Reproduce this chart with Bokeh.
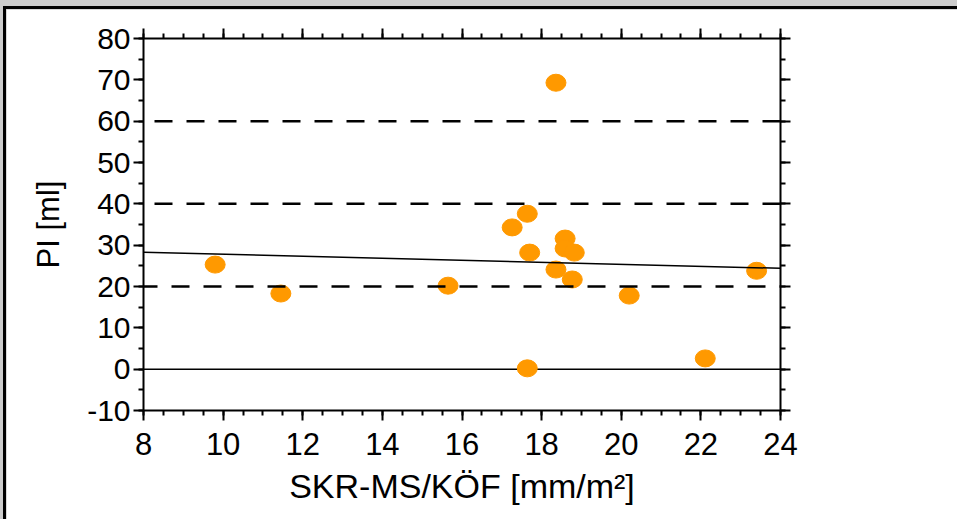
from bokeh.plotting import figure
from bokeh.models import (Range1d, LinearAxis, SingleIntervalTicker, Span, ColumnDataSource,
                          PrintfTickFormatter)
from bokeh.layouts import column
from bokeh.embed import file_html
from bokeh.resources import INLINE

# ---- data ----
x_vals = [9.8, 11.45, 15.65, 17.26, 17.64, 17.7, 17.64, 18.36, 18.36, 18.59, 18.59, 18.82, 18.77, 20.2, 22.11, 23.4]
y_vals = [25.3, 18.3, 20.2, 34.3, 37.6, 28.2, 0.2, 69.3, 24.1, 31.6, 29.2, 28.2, 21.7, 17.8, 2.6, 23.8]
reg_x = [8, 24]
reg_y = [28.3, 24.4]
ref_dashed = [20, 40, 60]
ref_solid = [0]
x_range = (8, 24)
y_range = (-10, 80)

FONT = "Liberation Sans"

p = figure(width=951, height=510, output_backend="svg", toolbar_location=None,
           x_range=Range1d(*x_range), y_range=Range1d(*y_range),
           x_axis_location=None, y_axis_location=None,
           frame_width=634, frame_height=369,
           min_border_left=137, min_border_right=180, min_border_top=29, min_border_bottom=112,
           background_fill_color="white", border_fill_color="white")
p.grid.visible = False
p.outline_line_color = None

def style_axis(ax, labels=True):
    ax.axis_line_width = 2
    ax.axis_line_color = "black"
    ax.major_tick_line_width = 2
    ax.minor_tick_line_width = 2
    ax.major_tick_out = 10
    ax.major_tick_in = 0
    ax.minor_tick_out = 5
    ax.minor_tick_in = 0
    ax.major_label_text_font = FONT
    ax.major_label_text_color = "black"
    ax.axis_label_text_font = FONT
    ax.axis_label_text_font_style = "normal"
    ax.axis_label_text_color = "black"
    ax.formatter = PrintfTickFormatter(format="%d")
    if not labels:
        ax.major_label_text_font_size = "0px"
        ax.major_label_text_alpha = 0

xt = lambda: SingleIntervalTicker(interval=2, num_minor_ticks=4)
yt = lambda: SingleIntervalTicker(interval=10, num_minor_ticks=2)

bottom = LinearAxis(ticker=xt(), axis_label="SKR-MS/KÖF [mm/m²]")
style_axis(bottom)
bottom.major_label_text_font_size = "31px"
bottom.major_label_standoff = 12
bottom.axis_label_text_font_size = "34px"
bottom.axis_label_standoff = 9
p.add_layout(bottom, "below")

left = LinearAxis(ticker=yt(), axis_label="PI [ml]")
style_axis(left)
left.major_label_text_font_size = "30px"
left.major_label_standoff = 3
left.axis_label_text_font_size = "31px"
left.axis_label_standoff = 18
p.add_layout(left, "left")

top = LinearAxis(ticker=xt())
style_axis(top, labels=False)
p.add_layout(top, "above")

right = LinearAxis(ticker=yt())
style_axis(right, labels=False)
p.add_layout(right, "right")

for v in ref_solid:
    p.add_layout(Span(location=v, dimension="width", line_color="black", line_width=1.5, level="underlay"))

src = ColumnDataSource(dict(x=x_vals, y=y_vals))
p.ellipse("x", "y", width=20, height=17, width_units="screen", height_units="screen",
          source=src, fill_color="#FF9900", line_color="#FF9900", line_width=1)

p.line(reg_x, reg_y, line_color="black", line_width=1.5)

offsets = {20: 4, 40: 21, 60: 21}
for v in ref_dashed:
    p.add_layout(Span(location=v, dimension="width", line_color="black", line_width=2.5,
                      line_dash="18 14", line_dash_offset=offsets.get(v, 0)))

p.styles = {"border-top": "3px solid black", "border-left": "3px solid black"}
layout = column(p, styles={"background-color": "#cccccc", "padding-top": "6px", "padding-left": "3px"})

open("out.html", "w").write(file_html(layout, INLINE))
